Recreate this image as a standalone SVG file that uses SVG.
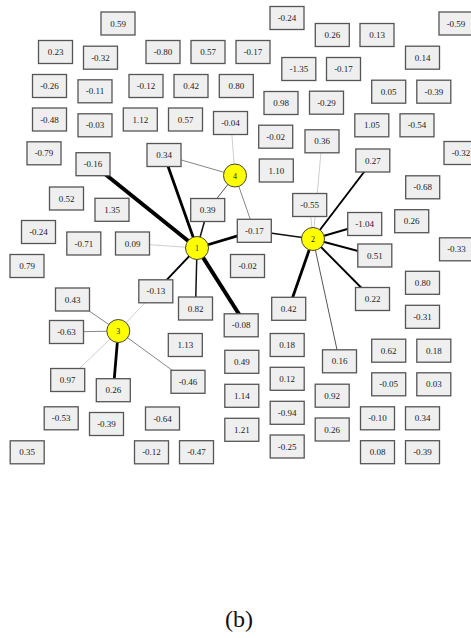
<svg xmlns="http://www.w3.org/2000/svg" width="471" height="638" viewBox="0 0 471 638">
<style>
.bx use{fill:#efefef;stroke:#555;stroke-width:1.3}
text{font-family:"Liberation Serif","Times New Roman",serif;fill:#222;text-anchor:middle}
.bx text{font-size:9px}
.nd circle{fill:#ffff00;stroke:#444;stroke-width:1}
.nd text{font-size:8px}
.e{stroke-linecap:butt;fill:none}
.w4{stroke:#000;stroke-width:4}
.w3{stroke:#000;stroke-width:2.8}
.w2{stroke:#000;stroke-width:1.9}
.w15{stroke:#111;stroke-width:1.5}
.g1{stroke:#555;stroke-width:1}
.g2{stroke:#777;stroke-width:0.9}
.lt{stroke:#c8c8c8;stroke-width:0.9}
</style>
<defs>
<rect id="r" x="-17" y="-11.5" width="34" height="23"/>
</defs>
<g id="connectors" class="e">
<line class="w4" x1="197" y1="248" x2="100" y2="170"/>
<line class="w3" x1="197" y1="248" x2="164" y2="155"/>
<line class="w15" x1="197" y1="248" x2="207.7" y2="210"/>
<line class="w3" x1="197" y1="248" x2="254.3" y2="230.8"/>
<line class="lt" x1="197" y1="248" x2="132.5" y2="243.5"/>
<line class="w2" x1="197" y1="248" x2="155.8" y2="291.3"/>
<line class="w15" x1="197" y1="248" x2="195.5" y2="308.5"/>
<line class="w4" x1="197" y1="248" x2="244" y2="322"/>
<line class="g2" x1="235" y1="175.5" x2="164" y2="155"/>
<line class="g1" x1="235" y1="175.5" x2="207.7" y2="210"/>
<line class="g2" x1="235" y1="175.5" x2="254.3" y2="230.8"/>
<line class="lt" x1="235" y1="175.5" x2="231" y2="123"/>
<line class="w15" x1="313" y1="239" x2="254.3" y2="230.8"/>
<line class="lt" x1="313" y1="239" x2="322" y2="141.3"/>
<line class="lt" x1="313" y1="239" x2="309.7" y2="205"/>
<line class="w2" x1="313" y1="239" x2="372.8" y2="160.5"/>
<line class="w2" x1="313" y1="239" x2="364.7" y2="224"/>
<line class="w2" x1="313" y1="239" x2="374.8" y2="255.5"/>
<line class="w2" x1="313" y1="239" x2="372.5" y2="299"/>
<line class="w3" x1="313" y1="239" x2="288.7" y2="308.8"/>
<line class="g1" x1="313" y1="239" x2="339.5" y2="361.3"/>
<line class="g2" x1="118.3" y1="331" x2="72.5" y2="299.5"/>
<line class="g2" x1="118.3" y1="331" x2="66.5" y2="332"/>
<line class="lt" x1="118.3" y1="331" x2="67.7" y2="380"/>
<line class="w3" x1="118.3" y1="331" x2="113.3" y2="390.2"/>
<line class="g2" x1="118.3" y1="331" x2="188" y2="381.8"/>
<line class="lt" x1="118.3" y1="331" x2="155.8" y2="291.3"/>
</g>
<g id="b1" class="bx" transform="translate(118,23.5)"><use href="#r"/><text y="3">0.59</text></g>
<g id="b2" class="bx" transform="translate(55.5,52)"><use href="#r"/><text y="3">0.23</text></g>
<g id="b3" class="bx" transform="translate(100.5,57.7)"><use href="#r"/><text y="3">-0.32</text></g>
<g id="b4" class="bx" transform="translate(163,52)"><use href="#r"/><text y="3">-0.80</text></g>
<g id="b5" class="bx" transform="translate(208,52)"><use href="#r"/><text y="3">0.57</text></g>
<g id="b6" class="bx" transform="translate(253,52)"><use href="#r"/><text y="3">-0.17</text></g>
<g id="b7" class="bx" transform="translate(287,18)"><use href="#r"/><text y="3">-0.24</text></g>
<g id="b8" class="bx" transform="translate(332.3,35)"><use href="#r"/><text y="3">0.26</text></g>
<g id="b9" class="bx" transform="translate(377,35)"><use href="#r"/><text y="3">0.13</text></g>
<g id="b10" class="bx" transform="translate(456,23.5)"><use href="#r"/><text y="3">-0.59</text></g>
<g id="b11" class="bx" transform="translate(49.5,86)"><use href="#r"/><text y="3">-0.26</text></g>
<g id="b12" class="bx" transform="translate(95,91.3)"><use href="#r"/><text y="3">-0.11</text></g>
<g id="b13" class="bx" transform="translate(146,86)"><use href="#r"/><text y="3">-0.12</text></g>
<g id="b14" class="bx" transform="translate(191,86)"><use href="#r"/><text y="3">0.42</text></g>
<g id="b15" class="bx" transform="translate(236.3,86)"><use href="#r"/><text y="3">0.80</text></g>
<g id="b16" class="bx" transform="translate(298.8,69)"><use href="#r"/><text y="3">-1.35</text></g>
<g id="b17" class="bx" transform="translate(343.5,69)"><use href="#r"/><text y="3">-0.17</text></g>
<g id="b18" class="bx" transform="translate(422.5,57.7)"><use href="#r"/><text y="3">0.14</text></g>
<g id="b19" class="bx" transform="translate(388.7,91.7)"><use href="#r"/><text y="3">0.05</text></g>
<g id="b20" class="bx" transform="translate(433.8,91.7)"><use href="#r"/><text y="3">-0.39</text></g>
<g id="b21" class="bx" transform="translate(49.5,119.5)"><use href="#r"/><text y="3">-0.48</text></g>
<g id="b22" class="bx" transform="translate(95,125.3)"><use href="#r"/><text y="3">-0.03</text></g>
<g id="b23" class="bx" transform="translate(140.3,119.5)"><use href="#r"/><text y="3">1.12</text></g>
<g id="b24" class="bx" transform="translate(185.5,119.5)"><use href="#r"/><text y="3">0.57</text></g>
<g id="b25" class="bx" transform="translate(230.5,123)"><use href="#r"/><text y="3">-0.04</text></g>
<g id="b26" class="bx" transform="translate(281,103)"><use href="#r"/><text y="3">0.98</text></g>
<g id="b27" class="bx" transform="translate(326.5,102.7)"><use href="#r"/><text y="3">-0.29</text></g>
<g id="b28" class="bx" transform="translate(371.8,125.3)"><use href="#r"/><text y="3">1.05</text></g>
<g id="b29" class="bx" transform="translate(417,125.3)"><use href="#r"/><text y="3">-0.54</text></g>
<g id="b30" class="bx" transform="translate(44,153.3)"><use href="#r"/><text y="3">-0.79</text></g>
<g id="b31" class="bx" transform="translate(93,164.2)"><use href="#r"/><text y="3">-0.16</text></g>
<g id="b32" class="bx" transform="translate(164,155)"><use href="#r"/><text y="3">0.34</text></g>
<g id="b33" class="bx" transform="translate(275.7,136.7)"><use href="#r"/><text y="3">-0.02</text></g>
<g id="b34" class="bx" transform="translate(322,141.3)"><use href="#r"/><text y="3">0.36</text></g>
<g id="b35" class="bx" transform="translate(372.8,160.5)"><use href="#r"/><text y="3">0.27</text></g>
<g id="b36" class="bx" transform="translate(461,153)"><use href="#r"/><text y="3">-0.32</text></g>
<g id="b37" class="bx" transform="translate(276.3,170.5)"><use href="#r"/><text y="3">1.10</text></g>
<g id="b38" class="bx" transform="translate(66.5,198.5)"><use href="#r"/><text y="3">0.52</text></g>
<g id="b39" class="bx" transform="translate(112,209.8)"><use href="#r"/><text y="3">1.35</text></g>
<g id="b40" class="bx" transform="translate(207.7,210)"><use href="#r"/><text y="3">0.39</text></g>
<g id="b41" class="bx" transform="translate(309.7,205)"><use href="#r"/><text y="3">-0.55</text></g>
<g id="b42" class="bx" transform="translate(422.7,187.3)"><use href="#r"/><text y="3">-0.68</text></g>
<g id="b43" class="bx" transform="translate(364.7,224)"><use href="#r"/><text y="3">-1.04</text></g>
<g id="b44" class="bx" transform="translate(411.7,221.2)"><use href="#r"/><text y="3">0.26</text></g>
<g id="b45" class="bx" transform="translate(38.5,232)"><use href="#r"/><text y="3">-0.24</text></g>
<g id="b46" class="bx" transform="translate(83.8,243.5)"><use href="#r"/><text y="3">-0.71</text></g>
<g id="b47" class="bx" transform="translate(132.5,243.5)"><use href="#r"/><text y="3">0.09</text></g>
<g id="b48" class="bx" transform="translate(254.3,230.8)"><use href="#r"/><text y="3">-0.17</text></g>
<g id="b49" class="bx" transform="translate(374.8,255.5)"><use href="#r"/><text y="3">0.51</text></g>
<g id="b50" class="bx" transform="translate(456.5,249.3)"><use href="#r"/><text y="3">-0.33</text></g>
<g id="b51" class="bx" transform="translate(27,266)"><use href="#r"/><text y="3">0.79</text></g>
<g id="b52" class="bx" transform="translate(247.5,266)"><use href="#r"/><text y="3">-0.02</text></g>
<g id="b53" class="bx" transform="translate(422.5,282.8)"><use href="#r"/><text y="3">0.80</text></g>
<g id="b54" class="bx" transform="translate(72.5,299.5)"><use href="#r"/><text y="3">0.43</text></g>
<g id="b55" class="bx" transform="translate(155.8,291.3)"><use href="#r"/><text y="3">-0.13</text></g>
<g id="b56" class="bx" transform="translate(195.5,308.5)"><use href="#r"/><text y="3">0.82</text></g>
<g id="b57" class="bx" transform="translate(288.7,308.8)"><use href="#r"/><text y="3">0.42</text></g>
<g id="b58" class="bx" transform="translate(372.5,299)"><use href="#r"/><text y="3">0.22</text></g>
<g id="b59" class="bx" transform="translate(422.5,316.8)"><use href="#r"/><text y="3">-0.31</text></g>
<g id="b60" class="bx" transform="translate(66.5,332)"><use href="#r"/><text y="3">-0.63</text></g>
<g id="b61" class="bx" transform="translate(241.2,325.3)"><use href="#r"/><text y="3">-0.08</text></g>
<g id="b62" class="bx" transform="translate(185.3,345)"><use href="#r"/><text y="3">1.13</text></g>
<g id="b63" class="bx" transform="translate(287.2,345)"><use href="#r"/><text y="3">0.18</text></g>
<g id="b64" class="bx" transform="translate(388.7,350.7)"><use href="#r"/><text y="3">0.62</text></g>
<g id="b65" class="bx" transform="translate(433.8,350.7)"><use href="#r"/><text y="3">0.18</text></g>
<g id="b66" class="bx" transform="translate(339.5,361.3)"><use href="#r"/><text y="3">0.16</text></g>
<g id="b67" class="bx" transform="translate(241.8,361.8)"><use href="#r"/><text y="3">0.49</text></g>
<g id="b68" class="bx" transform="translate(67.7,380)"><use href="#r"/><text y="3">0.97</text></g>
<g id="b69" class="bx" transform="translate(113.3,390.2)"><use href="#r"/><text y="3">0.26</text></g>
<g id="b70" class="bx" transform="translate(188,381.8)"><use href="#r"/><text y="3">-0.46</text></g>
<g id="b71" class="bx" transform="translate(287.2,378.8)"><use href="#r"/><text y="3">0.12</text></g>
<g id="b72" class="bx" transform="translate(388.7,384.3)"><use href="#r"/><text y="3">-0.05</text></g>
<g id="b73" class="bx" transform="translate(433.8,384.3)"><use href="#r"/><text y="3">0.03</text></g>
<g id="b74" class="bx" transform="translate(332.2,395.7)"><use href="#r"/><text y="3">0.92</text></g>
<g id="b75" class="bx" transform="translate(241.8,395.8)"><use href="#r"/><text y="3">1.14</text></g>
<g id="b76" class="bx" transform="translate(287.2,412.8)"><use href="#r"/><text y="3">-0.94</text></g>
<g id="b77" class="bx" transform="translate(61.2,418.3)"><use href="#r"/><text y="3">-0.53</text></g>
<g id="b78" class="bx" transform="translate(106.5,424)"><use href="#r"/><text y="3">-0.39</text></g>
<g id="b79" class="bx" transform="translate(162.5,418.5)"><use href="#r"/><text y="3">-0.64</text></g>
<g id="b80" class="bx" transform="translate(377.5,418.3)"><use href="#r"/><text y="3">-0.10</text></g>
<g id="b81" class="bx" transform="translate(422.5,418.3)"><use href="#r"/><text y="3">0.34</text></g>
<g id="b82" class="bx" transform="translate(241.8,429.8)"><use href="#r"/><text y="3">1.21</text></g>
<g id="b83" class="bx" transform="translate(332.2,429.5)"><use href="#r"/><text y="3">0.26</text></g>
<g id="b84" class="bx" transform="translate(287.2,446.5)"><use href="#r"/><text y="3">-0.25</text></g>
<g id="b85" class="bx" transform="translate(27.2,452.3)"><use href="#r"/><text y="3">0.35</text></g>
<g id="b86" class="bx" transform="translate(151.5,452.3)"><use href="#r"/><text y="3">-0.12</text></g>
<g id="b87" class="bx" transform="translate(196.5,452.2)"><use href="#r"/><text y="3">-0.47</text></g>
<g id="b88" class="bx" transform="translate(377.5,452.2)"><use href="#r"/><text y="3">0.08</text></g>
<g id="b89" class="bx" transform="translate(422.5,452.2)"><use href="#r"/><text y="3">-0.39</text></g>
<g id="n1" class="nd" transform="translate(197,248)"><circle r="11.5"/><text y="3">1</text></g>
<g id="n2" class="nd" transform="translate(313,239)"><circle r="11.5"/><text y="3">2</text></g>
<g id="n3" class="nd" transform="translate(118.3,331)"><circle r="11.5"/><text y="3">3</text></g>
<g id="n4" class="nd" transform="translate(235,175.5)"><circle r="11.5"/><text y="3">4</text></g>
<text id="caption" x="239" y="627" style="font-size:24px;fill:#111">(b)</text>
</svg>
